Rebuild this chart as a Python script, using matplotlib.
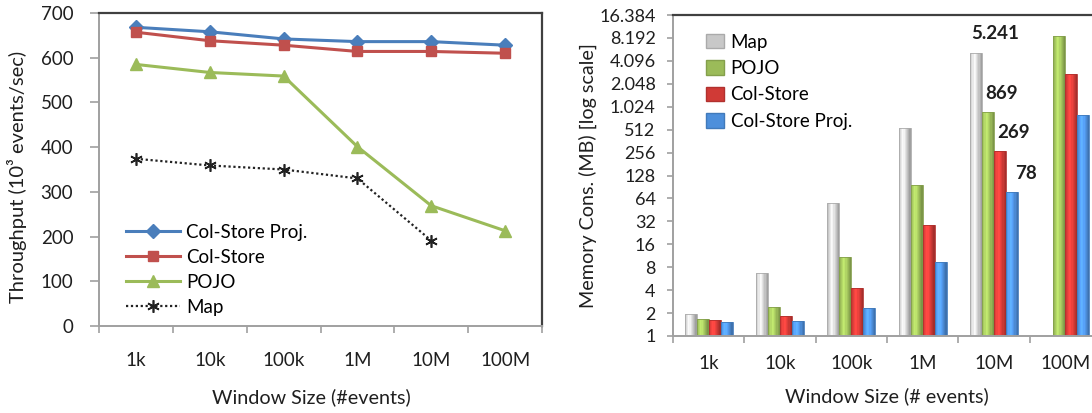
import numpy as np
import matplotlib
matplotlib.use("Agg")
import matplotlib.pyplot as plt
import matplotlib.colors as mcolors
from matplotlib.patches import Rectangle
from matplotlib.ticker import FixedLocator, NullFormatter, FixedFormatter

plt.rcParams['font.family'] = ['Lato', 'DejaVu Sans']

# data
windows = ['1k', '10k', '100k', '1M', '10M', '100M']

thr_colproj = [668, 658, 642, 636, 636, 628]
thr_colstore = [657, 638, 628, 614, 614, 610]
thr_pojo = [585, 567, 559, 401, 269, 213]
thr_map = [374, 359, 350, 330, 191, np.nan]

mem_map = [1.94, 6.8, 55, 538, 5241, np.nan]
mem_pojo = [1.67, 2.43, 10.8, 96, 869, 8700]
mem_colstore = [1.62, 1.83, 4.27, 28.7, 269, 2750]
mem_colproj = [1.53, 1.59, 2.31, 9.45, 78, 797]
mem_labels = {(4, 0): '5.241', (4, 1): '869', (4, 2): '269', (4, 3): '78'}

BLUE = '#4a7ebb'
RED = '#c0504d'
GREEN = '#9bbb59'
TXT = '#1f1f1f'
FS = 13.5
LFS = 14.2

fig = plt.figure(figsize=(10.92, 4.13), dpi=100)

# ---------------- left: throughput ----------------
ax = fig.add_axes([99/1092, 1-326/413, 443/1092, 313/413])
x = np.arange(len(windows))
ax.plot(x, thr_colproj, color=BLUE, lw=2.2, marker='D', ms=7, label='Col-Store Proj.')
ax.plot(x, thr_colstore, color=RED, lw=2.2, marker='s', ms=7.5, label='Col-Store')
ax.plot(x, thr_pojo, color=GREEN, lw=2.2, marker='^', ms=8.5, label='POJO')
ax.plot(x, thr_map, color='#222222', lw=1.6, ls=(0, (1, 1.2)), marker=(6, 2, 0), ms=9,
        mew=1.2, label='Map')
ax.set_xlim(-0.5, 5.5)
ax.set_ylim(0, 700)
ax.set_yticks(range(0, 701, 100))
ax.xaxis.set_major_locator(FixedLocator(np.arange(-0.5, 6, 1)))
ax.xaxis.set_major_formatter(NullFormatter())
ax.xaxis.set_minor_locator(FixedLocator(x))
ax.xaxis.set_minor_formatter(FixedFormatter(windows))
ax.tick_params(axis='x', which='major', length=5, color='#a0a0a0', width=1.2)
ax.tick_params(axis='x', which='minor', length=0, pad=19, labelsize=FS, labelcolor=TXT)
ax.tick_params(axis='y', length=6.5, color='#a0a0a0', width=1.2, labelsize=FS,
               labelcolor=TXT, pad=12)
for s in ['left', 'bottom']:
    ax.spines[s].set_color('#a0a0a0')
    ax.spines[s].set_linewidth(1.4)
for s in ['top', 'right']:
    ax.spines[s].set_color('#404040')
    ax.spines[s].set_linewidth(1.6)
ax.set_ylabel('Throughput (10³ events/sec)', fontsize=LFS + 0.3, color=TXT)
ax.yaxis.set_label_coords(-0.162, 0.475)
ax.set_xlabel('Window Size (#events)', fontsize=LFS, color=TXT, labelpad=12)
ax.xaxis.set_label_coords(0.479, -0.2)
ax.legend(loc='upper left', bbox_to_anchor=(0.045, 0.35), frameon=False, fontsize=FS,
          handlelength=2.85, labelspacing=0.42, handletextpad=0.35, borderaxespad=0)

# ---------------- right: memory ----------------
ax2 = fig.add_axes([673/1092, 1-336/413, 428/1092, 321/413])
ax2.set_yscale('log', base=2)
ax2.set_ylim(1, 16384)
ax2.set_xlim(-0.5, 5.5)

series = [(mem_map, '#c8c8c8', 'Map'), (mem_pojo, GREEN, 'POJO'),
          (mem_colstore, '#d03a36', 'Col-Store'), (mem_colproj, '#4d8fdb', 'Col-Store Proj.')]
bw = 0.168
nstrip = 10
shade = np.concatenate([np.linspace(1.0, 1.25, 4), np.linspace(1.22, 0.8, nstrip - 4)])
for j, (vals, col, name) in enumerate(series):
    base = np.array(mcolors.to_rgb(col))
    off = (j - 1.5) * bw
    for i, v in enumerate(vals):
        if np.isnan(v):
            continue
        left = i + off - bw / 2
        sw = bw / nstrip
        for k in range(nstrip):
            c = np.clip(base * shade[k], 0, 1)
            ax2.bar(left + k * sw, v - 1, width=sw * 1.02, bottom=1, align='edge',
                    color=c, lw=0)
        ax2.bar(left, v - 1, width=bw, bottom=1, align='edge', fill=False,
                edgecolor=np.clip(base * 0.85, 0, 1), lw=0.6)
        if (i, j) in mem_labels:
            dx = 14 if j == 0 else 10
            ax2.annotate(mem_labels[(i, j)], (i + off, v), xytext=(dx, 13.5),
                         textcoords='offset points', ha='center', va='center',
                         fontsize=FS, fontweight='bold', color=TXT)

yt = [2 ** k for k in range(15)]
ax2.yaxis.set_major_locator(FixedLocator(yt))
ax2.yaxis.set_minor_locator(FixedLocator([]))
ax2.yaxis.set_major_formatter(FixedFormatter([f'{v:,}'.replace(',', '.') for v in yt]))
ax2.xaxis.set_major_locator(FixedLocator(np.arange(-0.5, 6, 1)))
ax2.xaxis.set_major_formatter(NullFormatter())
ax2.xaxis.set_minor_locator(FixedLocator(x))
ax2.xaxis.set_minor_formatter(FixedFormatter(windows))
ax2.tick_params(axis='x', which='major', length=5, color='#a0a0a0', width=1.2)
ax2.tick_params(axis='x', which='minor', length=0, pad=14, labelsize=FS, labelcolor=TXT)
ax2.tick_params(axis='y', length=4.5, color='#a0a0a0', width=1.2, labelsize=FS - 0.5,
                labelcolor=TXT, pad=8)
for s in ['left', 'bottom']:
    ax2.spines[s].set_color('#a0a0a0')
    ax2.spines[s].set_linewidth(1.4)
for s in ['top', 'right']:
    ax2.spines[s].set_color('#404040')
    ax2.spines[s].set_linewidth(1.6)
ax2.set_ylabel('Memory Cons. (MB) [log scale]', fontsize=LFS, color=TXT)
ax2.yaxis.set_label_coords(-0.178, 0.5)
ax2.set_xlabel('Window Size (# events)', fontsize=LFS, color=TXT, labelpad=11)
handles = [Rectangle((0, 0), 1, 1, facecolor=c, edgecolor=np.clip(np.array(mcolors.to_rgb(c)) * 0.85, 0, 1))
           for _, c, _ in series]
ax2.legend(handles, [n for _, _, n in series], loc='upper left', bbox_to_anchor=(0.06, 0.965),
           frameon=False, fontsize=FS, handlelength=0.95, handleheight=0.8,
           labelspacing=0.5, handletextpad=0.35, borderaxespad=0)

fig.savefig('out.png', dpi=100)
